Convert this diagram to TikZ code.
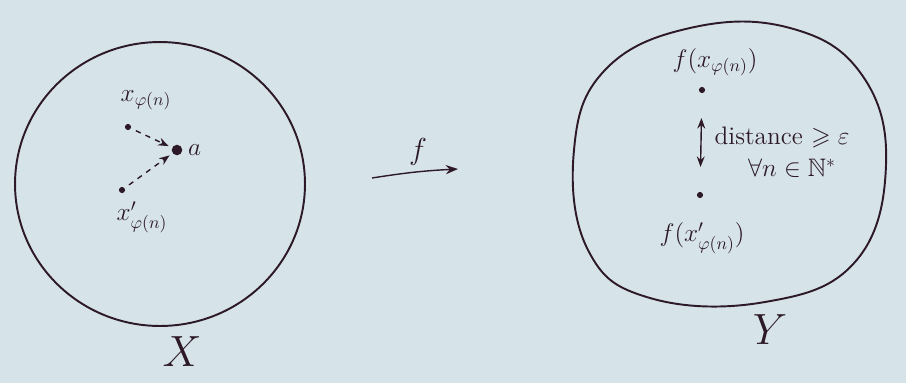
\documentclass[tikz,border=0pt]{standalone}
\usepackage{amsmath}
\usepackage{amssymb}
\usetikzlibrary{arrows.meta, positioning, calc}
\definecolor{paper}{RGB}{214,228,234}
\definecolor{ink}{RGB}{45,25,40}
\tikzset{
  setline/.style={draw=ink, line width=1.1pt},
  pt/.style={circle, fill=ink, inner sep=0pt, minimum size=3.5pt},
  bigpt/.style={circle, fill=ink, inner sep=0pt, minimum size=6pt},
  lbl/.style={text=ink, font=\Large, inner sep=1pt},
  biglbl/.style={text=ink, font=\Huge},
  dasharrow/.style={-{Stealth[length=6pt]}, dashed, thick, color=ink, shorten >=2pt, shorten <=3pt},
  maparrow/.style={-{Stealth[length=7pt]}, thick, color=ink},
  gaparrow/.style={{Stealth[length=6pt]}-{Stealth[length=6pt]}, thick, color=ink, shorten >=14pt, shorten <=14pt}
}

\begin{document}
\begin{tikzpicture}[x=0.02cm, y=-0.02cm]
  \fill[paper] (0,0) rectangle (906,383);
  \useasboundingbox (0,0) rectangle (906,383);

  % set X
  \draw[setline] (160,184) ellipse [x radius=2.9cm, y radius=2.84cm];
  \node[pt] (xn) at (128,127) {};
  \node[bigpt] (a) at (177,150) {};
  \node[pt] (xpn) at (122,190) {};
  \node[lbl] (xnlbl) at (146,100) {$x_{\varphi(n)}$};
  \node[lbl, right=2pt of a] (albl) {$a$};
  \node[lbl] (xpnlbl) at (142,217) {$x'_{\varphi(n)}$};
  \draw[dasharrow] (xn) -- (a);
  \draw[dasharrow] (xpn) -- (a);
  \node[biglbl] (setX) at (182,352) {$X$};

  % the map f
  \coordinate (fs) at (372,178);
  \coordinate (fe) at (458,169);
  \draw[maparrow] (fs) to[bend left=3] (fe);
  \node[lbl, font=\LARGE] (flbl) at (418,152) {$f$};

  % set Y
  \draw[setline] plot[smooth cycle, tension=0.7] coordinates {(574,150) (605,70) (690,28) (790,28) (862,75) (886,165) (855,262) (765,302) (650,298) (588,250)};
  \node[pt] (fxn) at (702,90) {};
  \node[pt] (fxpn) at (700,195) {};
  \node[lbl] (fxnlbl) at (715,62) {$f(x_{\varphi(n)})$};
  \node[lbl] (fxpnlbl) at (702,238) {$f(x'_{\varphi(n)})$};
  \draw[gaparrow] (fxn) -- (fxpn);
  \node[lbl] (dist) at (782,137) {distance $\geqslant\varepsilon$};
  \node[lbl] (forall) at (792,168) {$\forall n\in\mathbb{N}^*$};
  \node[biglbl] (setY) at (770,330) {$Y$};
\end{tikzpicture}
\end{document}
